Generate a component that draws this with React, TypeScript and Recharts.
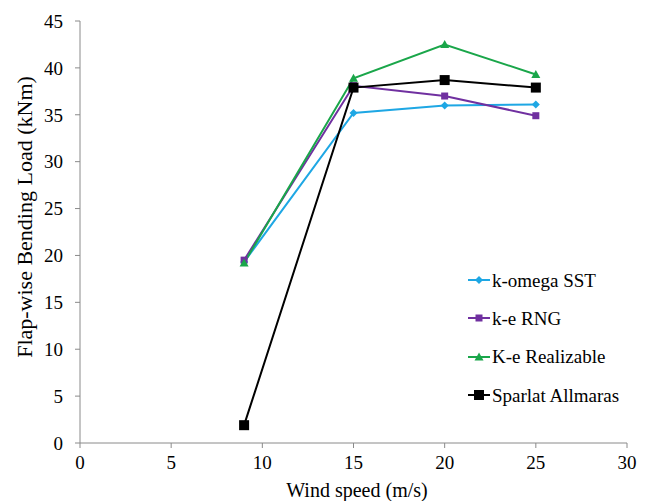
import React from 'react';
import { LineChart, Line, XAxis, YAxis } from 'recharts';

const windSpeed = [9, 15, 20, 25];
const kOmegaSST = [19.3, 35.2, 36.0, 36.1];
const keRNG = [19.5, 38.1, 37.0, 34.9];
const keRealizable = [19.2, 38.9, 42.5, 39.3];
const sparlatAllmaras = [1.9, 37.9, 38.7, 37.9];
const xTicks = [0, 5, 10, 15, 20, 25, 30];
const yTicks = [0, 5, 10, 15, 20, 25, 30, 35, 40, 45];

const seriesNames = ['k-omega SST', 'k-e RNG', 'K-e Realizable', 'Sparlat Allmaras'];
const colors = ['#1ea7e4', '#7030a0', '#1aa64a', '#000000'];
const shapes = ['diamond', 'square', 'triangle', 'bigsquare'];

const data = windSpeed.map((w, i) => ({
  w,
  s0: kOmegaSST[i],
  s1: keRNG[i],
  s2: keRealizable[i],
  s3: sparlatAllmaras[i],
}));

const FONT = '"Liberation Serif", "Times New Roman", serif';

function Marker({ cx, cy, shape, color }: any) {
  if (cx == null || cy == null) return null;
  if (shape === 'diamond') {
    const r = 4;
    return <polygon points={`${cx},${cy - r} ${cx + r},${cy} ${cx},${cy + r} ${cx - r},${cy}`} fill={color} />;
  }
  if (shape === 'square') {
    const s = 7;
    return <rect x={cx - s / 2} y={cy - s / 2} width={s} height={s} fill={color} />;
  }
  if (shape === 'triangle') {
    const r = 4.5;
    return <polygon points={`${cx},${cy - r} ${cx + r},${cy + r * 0.8} ${cx - r},${cy + r * 0.8}`} fill={color} />;
  }
  const s = 10;
  return <rect x={cx - s / 2} y={cy - s / 2} width={s} height={s} fill={color} />;
}

function makeDot(i: number) {
  return (props: any) => (
    <Marker key={`d${i}-${props.index}`} cx={props.cx} cy={props.cy} shape={shapes[i]} color={colors[i]} />
  );
}

function LegendBox() {
  return (
    <div style={{ position: 'absolute', left: 467, top: 261, fontFamily: FONT, fontSize: 19, color: '#000', lineHeight: 1 }}>
      {seriesNames.map((n, i) => (
        <div key={n} style={{ display: 'flex', alignItems: 'center', height: 38.3 }}>
          <svg width={24} height={12} style={{ marginRight: 1 }}>
            <line x1={1} y1={6} x2={23} y2={6} stroke={colors[i]} strokeWidth={2} />
            <Marker cx={12} cy={6} shape={shapes[i]} color={colors[i]} />
          </svg>
          <span>{n}</span>
        </div>
      ))}
    </div>
  );
}

const YLabel = () => (
  <text
    x={24}
    y={217}
    transform="rotate(-90, 24, 217)"
    textAnchor="middle"
    dominantBaseline="central"
    style={{ fontFamily: FONT, fontSize: 22, fill: '#000' }}
  >
    Flap-wise Bending Load (kNm)
  </text>
);

const XLabel = () => (
  <text
    x={357}
    y={490}
    textAnchor="middle"
    dominantBaseline="central"
    style={{ fontFamily: FONT, fontSize: 20, fill: '#000' }}
  >
    Wind speed (m/s)
  </text>
);

export default function App() {
  return (
    <div style={{ position: 'absolute', left: 0, top: 0, width: 646, height: 501, background: '#fff' }}>
      <LineChart width={646} height={501} data={data} margin={{ top: 21, right: 19, left: 0, bottom: 0 }}>
        <XAxis
          dataKey="w"
          type="number"
          domain={[0, 30]}
          ticks={xTicks}
          interval={0}
          height={58}
          stroke="#8a8a8a"
          tickSize={5}
          tickMargin={8}
          tick={{ fill: '#000', fontFamily: FONT, fontSize: 19 }}
          label={{ content: XLabel as any }}
        />
        <YAxis
          type="number"
          domain={[0, 45]}
          ticks={yTicks}
          interval={0}
          width={80}
          stroke="#8a8a8a"
          tickSize={5}
          tickMargin={12}
          tick={{ fill: '#000', fontFamily: FONT, fontSize: 19 }}
          label={{ content: YLabel as any }}
        />
        {[0, 1, 2, 3].map((i) => (
          <Line
            key={i}
            dataKey={`s${i}`}
            name={seriesNames[i]}
            stroke={colors[i]}
            strokeWidth={2}
            dot={makeDot(i)}
            activeDot={false}
            isAnimationActive={false}
          />
        ))}
      </LineChart>
      <LegendBox />
    </div>
  );
}
